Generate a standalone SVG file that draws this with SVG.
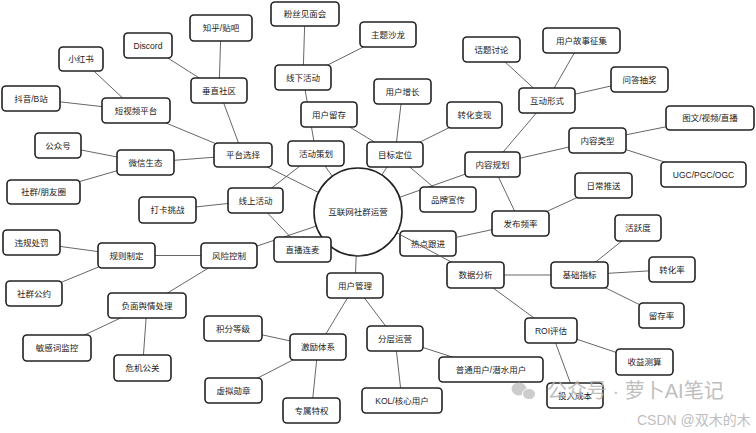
<svg xmlns="http://www.w3.org/2000/svg" width="756" height="433" viewBox="0 0 756 433">
<style>
.n rect{fill:#fff;stroke:#222;stroke-width:1.6}
.n circle{fill:#fff;stroke:#222;stroke-width:1.6}
.n text{font-family:"Liberation Sans","Noto Sans CJK SC",sans-serif;font-size:8.5px;fill:#222;text-anchor:middle;dominant-baseline:central}
#connectors line{stroke:#555;stroke-width:0.9}
.wm{font-family:"Liberation Sans","Noto Sans CJK SC",sans-serif;fill:#b4b4b4}
</style>
<rect width="756" height="433" fill="#fff"/>
<g id="n-hot" class="n"><rect x="400" y="231" width="56" height="25" rx="4"/><text x="428" y="243.5">热点跟进</text></g>
<g id="connectors">
<line x1="358" y1="212" x2="243" y2="155"/>
<line x1="358" y1="212" x2="316" y2="153.5"/>
<line x1="358" y1="212" x2="395" y2="154.5"/>
<line x1="358" y1="212" x2="492.5" y2="164.5"/>
<line x1="358" y1="212" x2="229" y2="255.5"/>
<line x1="358" y1="212" x2="355" y2="285.5"/>
<line x1="358" y1="212" x2="475.5" y2="275"/>
<line x1="243" y1="155" x2="219" y2="90.5"/>
<line x1="243" y1="155" x2="136" y2="110.5"/>
<line x1="243" y1="155" x2="145.5" y2="162.5"/>
<line x1="219" y1="90.5" x2="148" y2="45.5"/>
<line x1="219" y1="90.5" x2="221" y2="28"/>
<line x1="136" y1="110.5" x2="81" y2="59"/>
<line x1="136" y1="110.5" x2="31" y2="98.5"/>
<line x1="145.5" y1="162.5" x2="58" y2="145.5"/>
<line x1="145.5" y1="162.5" x2="43.5" y2="192"/>
<line x1="316" y1="153.5" x2="303" y2="77.5"/>
<line x1="316" y1="153.5" x2="255.5" y2="200.5"/>
<line x1="303" y1="77.5" x2="305" y2="14"/>
<line x1="303" y1="77.5" x2="388" y2="34.5"/>
<line x1="255.5" y1="200.5" x2="167.5" y2="210"/>
<line x1="255.5" y1="200.5" x2="302.5" y2="249.5"/>
<line x1="395" y1="154.5" x2="402.5" y2="91.5"/>
<line x1="395" y1="154.5" x2="329" y2="114.5"/>
<line x1="395" y1="154.5" x2="474.5" y2="115"/>
<line x1="395" y1="154.5" x2="448" y2="199.5"/>
<line x1="492.5" y1="164.5" x2="547" y2="100.5"/>
<line x1="492.5" y1="164.5" x2="597.5" y2="140.5"/>
<line x1="492.5" y1="164.5" x2="520.5" y2="223.5"/>
<line x1="547" y1="100.5" x2="491.5" y2="49.5"/>
<line x1="547" y1="100.5" x2="581.5" y2="40.5"/>
<line x1="547" y1="100.5" x2="639.5" y2="79.5"/>
<line x1="597.5" y1="140.5" x2="710" y2="118"/>
<line x1="597.5" y1="140.5" x2="703.5" y2="174.5"/>
<line x1="520.5" y1="223.5" x2="603.5" y2="185.5"/>
<line x1="520.5" y1="223.5" x2="456" y2="237.4"/>
<line x1="229" y1="255.5" x2="126.5" y2="255.5"/>
<line x1="229" y1="255.5" x2="147" y2="305.5"/>
<line x1="126.5" y1="255.5" x2="31.5" y2="242.5"/>
<line x1="126.5" y1="255.5" x2="34" y2="293.5"/>
<line x1="147" y1="305.5" x2="57" y2="348"/>
<line x1="147" y1="305.5" x2="142.5" y2="368"/>
<line x1="355" y1="285.5" x2="318" y2="347"/>
<line x1="355" y1="285.5" x2="395" y2="338.5"/>
<line x1="318" y1="347" x2="233" y2="328.5"/>
<line x1="318" y1="347" x2="233.5" y2="390.5"/>
<line x1="318" y1="347" x2="311.5" y2="410.5"/>
<line x1="395" y1="338.5" x2="491" y2="369.5"/>
<line x1="395" y1="338.5" x2="402" y2="400.5"/>
<line x1="475.5" y1="275" x2="579.5" y2="275"/>
<line x1="475.5" y1="275" x2="551" y2="330.5"/>
<line x1="579.5" y1="275" x2="638" y2="228"/>
<line x1="579.5" y1="275" x2="672" y2="269.5"/>
<line x1="579.5" y1="275" x2="661.5" y2="315.5"/>
<line x1="551" y1="330.5" x2="644.5" y2="362"/>
<line x1="551" y1="330.5" x2="575" y2="395.5"/>
</g>
<g id="n-root" class="n"><circle cx="358" cy="212" r="44"/><text x="358" y="212">互联网社群运营</text></g>
<g id="n-platform" class="n"><rect x="214" y="143" width="58" height="24" rx="4"/><text x="243" y="155">平台选择</text></g>
<g id="n-vertical" class="n"><rect x="191" y="78" width="56" height="25" rx="4"/><text x="219" y="90.5">垂直社区</text></g>
<g id="n-discord" class="n"><rect x="124" y="33" width="48" height="25" rx="4"/><text x="148" y="45.5">Discord</text></g>
<g id="n-zhihu" class="n"><rect x="190" y="15" width="62" height="26" rx="4"/><text x="221" y="28">知乎/贴吧</text></g>
<g id="n-short" class="n"><rect x="102" y="98" width="68" height="25" rx="4"/><text x="136" y="110.5">短视频平台</text></g>
<g id="n-xhs" class="n"><rect x="59" y="47" width="44" height="24" rx="4"/><text x="81" y="59">小红书</text></g>
<g id="n-douyin" class="n"><rect x="2" y="86" width="58" height="25" rx="4"/><text x="31" y="98.5">抖音/B站</text></g>
<g id="n-wechat" class="n"><rect x="117" y="150" width="57" height="25" rx="4"/><text x="145.5" y="162.5">微信生态</text></g>
<g id="n-gzh" class="n"><rect x="35" y="133" width="46" height="25" rx="4"/><text x="58" y="145.5">公众号</text></g>
<g id="n-moments" class="n"><rect x="7" y="180" width="73" height="24" rx="4"/><text x="43.5" y="192">社群/朋友圈</text></g>
<g id="n-activity" class="n"><rect x="288" y="141" width="56" height="25" rx="4"/><text x="316" y="153.5">活动策划</text></g>
<g id="n-offline" class="n"><rect x="275" y="65" width="56" height="25" rx="4"/><text x="303" y="77.5">线下活动</text></g>
<g id="n-fans" class="n"><rect x="271" y="2" width="68" height="24" rx="4"/><text x="305" y="14">粉丝见面会</text></g>
<g id="n-salon" class="n"><rect x="360" y="22" width="56" height="25" rx="4"/><text x="388" y="34.5">主题沙龙</text></g>
<g id="n-online" class="n"><rect x="228" y="188" width="55" height="25" rx="4"/><text x="255.5" y="200.5">线上活动</text></g>
<g id="n-checkin" class="n"><rect x="139" y="197" width="57" height="26" rx="4"/><text x="167.5" y="210">打卡挑战</text></g>
<g id="n-live" class="n"><rect x="274" y="237" width="57" height="25" rx="4"/><text x="302.5" y="249.5">直播连麦</text></g>
<g id="n-goal" class="n"><rect x="367" y="142" width="56" height="25" rx="4"/><text x="395" y="154.5">目标定位</text></g>
<g id="n-growth" class="n"><rect x="374" y="79" width="57" height="25" rx="4"/><text x="402.5" y="91.5">用户增长</text></g>
<g id="n-retain" class="n"><rect x="301" y="102" width="56" height="25" rx="4"/><text x="329" y="114.5">用户留存</text></g>
<g id="n-monetize" class="n"><rect x="447" y="102" width="55" height="26" rx="4"/><text x="474.5" y="115">转化变现</text></g>
<g id="n-brand" class="n"><rect x="420" y="187" width="56" height="25" rx="4"/><text x="448" y="199.5">品牌宣传</text></g>
<g id="n-content" class="n"><rect x="465" y="152" width="55" height="25" rx="4"/><text x="492.5" y="164.5">内容规划</text></g>
<g id="n-interact" class="n"><rect x="519" y="88" width="56" height="25" rx="4"/><text x="547" y="100.5">互动形式</text></g>
<g id="n-topic" class="n"><rect x="463" y="37" width="57" height="25" rx="4"/><text x="491.5" y="49.5">话题讨论</text></g>
<g id="n-story" class="n"><rect x="543" y="28" width="77" height="25" rx="4"/><text x="581.5" y="40.5">用户故事征集</text></g>
<g id="n-qa" class="n"><rect x="611" y="67" width="57" height="25" rx="4"/><text x="639.5" y="79.5">问答抽奖</text></g>
<g id="n-ctype" class="n"><rect x="569" y="128" width="57" height="25" rx="4"/><text x="597.5" y="140.5">内容类型</text></g>
<g id="n-media" class="n"><rect x="666" y="106" width="88" height="24" rx="4"/><text x="710" y="118">图文/视频/直播</text></g>
<g id="n-ugc" class="n"><rect x="661" y="162" width="85" height="25" rx="4"/><text x="703.5" y="174.5">UGC/PGC/OGC</text></g>
<g id="n-freq" class="n"><rect x="492" y="211" width="57" height="25" rx="4"/><text x="520.5" y="223.5">发布频率</text></g>
<g id="n-daily" class="n"><rect x="575" y="173" width="57" height="25" rx="4"/><text x="603.5" y="185.5">日常推送</text></g>
<g id="n-risk" class="n"><rect x="201" y="243" width="56" height="25" rx="4"/><text x="229" y="255.5">风险控制</text></g>
<g id="n-rules" class="n"><rect x="98" y="243" width="57" height="25" rx="4"/><text x="126.5" y="255.5">规则制定</text></g>
<g id="n-penalty" class="n"><rect x="3" y="230" width="57" height="25" rx="4"/><text x="31.5" y="242.5">违规处罚</text></g>
<g id="n-pact" class="n"><rect x="6" y="281" width="56" height="25" rx="4"/><text x="34" y="293.5">社群公约</text></g>
<g id="n-negative" class="n"><rect x="108" y="293" width="78" height="25" rx="4"/><text x="147" y="305.5">负面舆情处理</text></g>
<g id="n-sensitive" class="n"><rect x="23" y="335" width="68" height="26" rx="4"/><text x="57" y="348">敏感词监控</text></g>
<g id="n-crisis" class="n"><rect x="114" y="355" width="57" height="26" rx="4"/><text x="142.5" y="368">危机公关</text></g>
<g id="n-users" class="n"><rect x="327" y="273" width="56" height="25" rx="4"/><text x="355" y="285.5">用户管理</text></g>
<g id="n-incent" class="n"><rect x="290" y="334" width="56" height="26" rx="4"/><text x="318" y="347">激励体系</text></g>
<g id="n-points" class="n"><rect x="204" y="316" width="58" height="25" rx="4"/><text x="233" y="328.5">积分等级</text></g>
<g id="n-badge" class="n"><rect x="205" y="378" width="57" height="25" rx="4"/><text x="233.5" y="390.5">虚拟勋章</text></g>
<g id="n-privilege" class="n"><rect x="283" y="398" width="57" height="25" rx="4"/><text x="311.5" y="410.5">专属特权</text></g>
<g id="n-tier" class="n"><rect x="367" y="326" width="56" height="25" rx="4"/><text x="395" y="338.5">分层运营</text></g>
<g id="n-normal" class="n"><rect x="439" y="357" width="104" height="25" rx="4"/><text x="491" y="369.5">普通用户/潜水用户</text></g>
<g id="n-kol" class="n"><rect x="362" y="388" width="80" height="25" rx="4"/><text x="402" y="400.5">KOL/核心用户</text></g>
<g id="n-data" class="n"><rect x="447" y="262" width="57" height="26" rx="4"/><text x="475.5" y="275">数据分析</text></g>
<g id="n-basic" class="n"><rect x="551" y="262" width="57" height="26" rx="4"/><text x="579.5" y="275">基础指标</text></g>
<g id="n-active" class="n"><rect x="615" y="215" width="46" height="26" rx="4"/><text x="638" y="228">活跃度</text></g>
<g id="n-conv" class="n"><rect x="649" y="257" width="46" height="25" rx="4"/><text x="672" y="269.5">转化率</text></g>
<g id="n-retrate" class="n"><rect x="639" y="303" width="45" height="25" rx="4"/><text x="661.5" y="315.5">留存率</text></g>
<g id="n-roi" class="n"><rect x="525" y="318" width="52" height="25" rx="4"/><text x="551" y="330.5">ROI评估</text></g>
<g id="n-revenue" class="n"><rect x="616" y="349" width="57" height="26" rx="4"/><text x="644.5" y="362">收益测算</text></g>
<g id="n-cost" class="n"><rect x="547" y="383" width="56" height="25" rx="4"/><text x="575" y="395.5">投入成本</text></g>
<g id="watermark" opacity="0.85">
<ellipse cx="519" cy="389" rx="7.5" ry="6.5" fill="#c4c4c4"/>
<ellipse cx="529" cy="394" rx="6.5" ry="5.5" fill="#c4c4c4" stroke="#fff" stroke-width="1"/>
<text class="wm" x="547" y="398" font-size="20">公众号 · 萝卜AI笔记</text>
<text class="wm" x="637" y="425" font-size="14">CSDN @双木的木</text>
</g>
</svg>
